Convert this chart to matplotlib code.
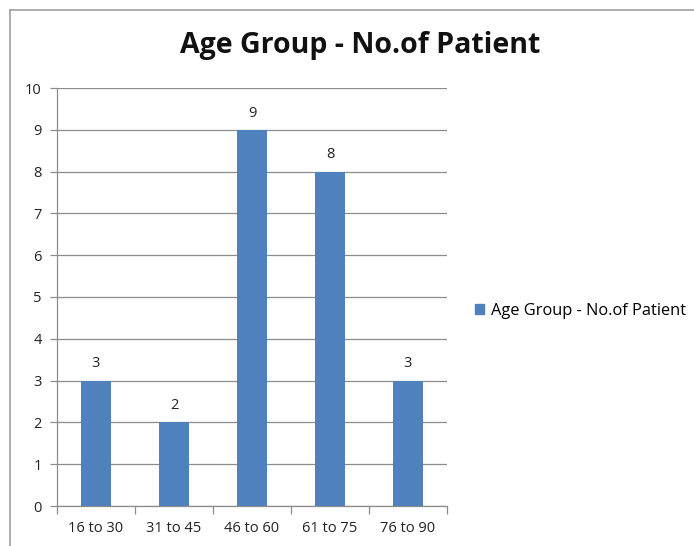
import matplotlib.pyplot as plt
from matplotlib.patches import Rectangle
from matplotlib.lines import Line2D

plt.rcParams['font.family'] = ['Open Sans', 'DejaVu Sans']

# Data
age_groups = ['16 to 30', '31 to 45', '46 to 60', '61 to 75', '76 to 90']
patients = [3, 2, 9, 8, 3]
series_name = 'Age Group - No.of Patient'
bar_color = '#4F81BD'
grid_color = '#8C8C8C'

fig = plt.figure(figsize=(6.94, 5.46), dpi=100)
ax = fig.add_axes([57 / 694, 1 - 506 / 546, 390 / 694, 418 / 546])

# Outer chart border (Excel style)
fig.add_artist(Line2D([10 / 694, 10 / 694], [0, 1 - 10 / 546], color='#A0A0A0', lw=1.2,
                      transform=fig.transFigure))
fig.add_artist(Line2D([10 / 694, 1], [1 - 10 / 546, 1 - 10 / 546], color='#A0A0A0', lw=1.2,
                      transform=fig.transFigure))

x = range(len(age_groups))
bars = ax.bar(x, patients, width=0.39, color=bar_color, zorder=3, label=series_name)
for xi, v in zip(x, patients):
    ax.text(xi, v + 0.22, str(v), ha='center', va='bottom', fontsize=10.5, color='#222222')

ax.set_xlim(-0.5, len(age_groups) - 0.5)
ax.set_ylim(0, 10)
ax.set_yticks(range(0, 11))
ax.yaxis.grid(True, color=grid_color, lw=0.9, zorder=0)
ax.set_axisbelow(True)

ax.set_xticks(list(x))
ax.set_xticklabels(age_groups, fontsize=10.5, color='#222222')
ax.tick_params(axis='x', length=0, pad=11)
# category boundary ticks
ax.set_xticks([i - 0.5 for i in range(len(age_groups) + 1)], minor=True)
ax.tick_params(axis='x', which='minor', length=6, color=grid_color, width=0.9)
ax.tick_params(axis='y', length=5, color=grid_color, width=0.9, labelsize=10.5,
               labelcolor='#222222', pad=6)

for s in ['top', 'right']:
    ax.spines[s].set_visible(False)
for s in ['left', 'bottom']:
    ax.spines[s].set_color(grid_color)
    ax.spines[s].set_linewidth(0.9)

fig.text(360 / 694, 1 - 46 / 546, 'Age Group - No.of Patient', ha='center', va='center',
         fontsize=20.5, fontweight='bold', color='#111111')

handle = Rectangle((0, 0), 1, 1, color=bar_color)
fig.legend([handle], [series_name], loc='center left', bbox_to_anchor=(468 / 694, 1 - 311 / 546),
           frameon=False, fontsize=11.8, handlelength=0.6, handleheight=0.6, handletextpad=0.4,
           borderaxespad=0)

fig.savefig('out.png', dpi=100)
